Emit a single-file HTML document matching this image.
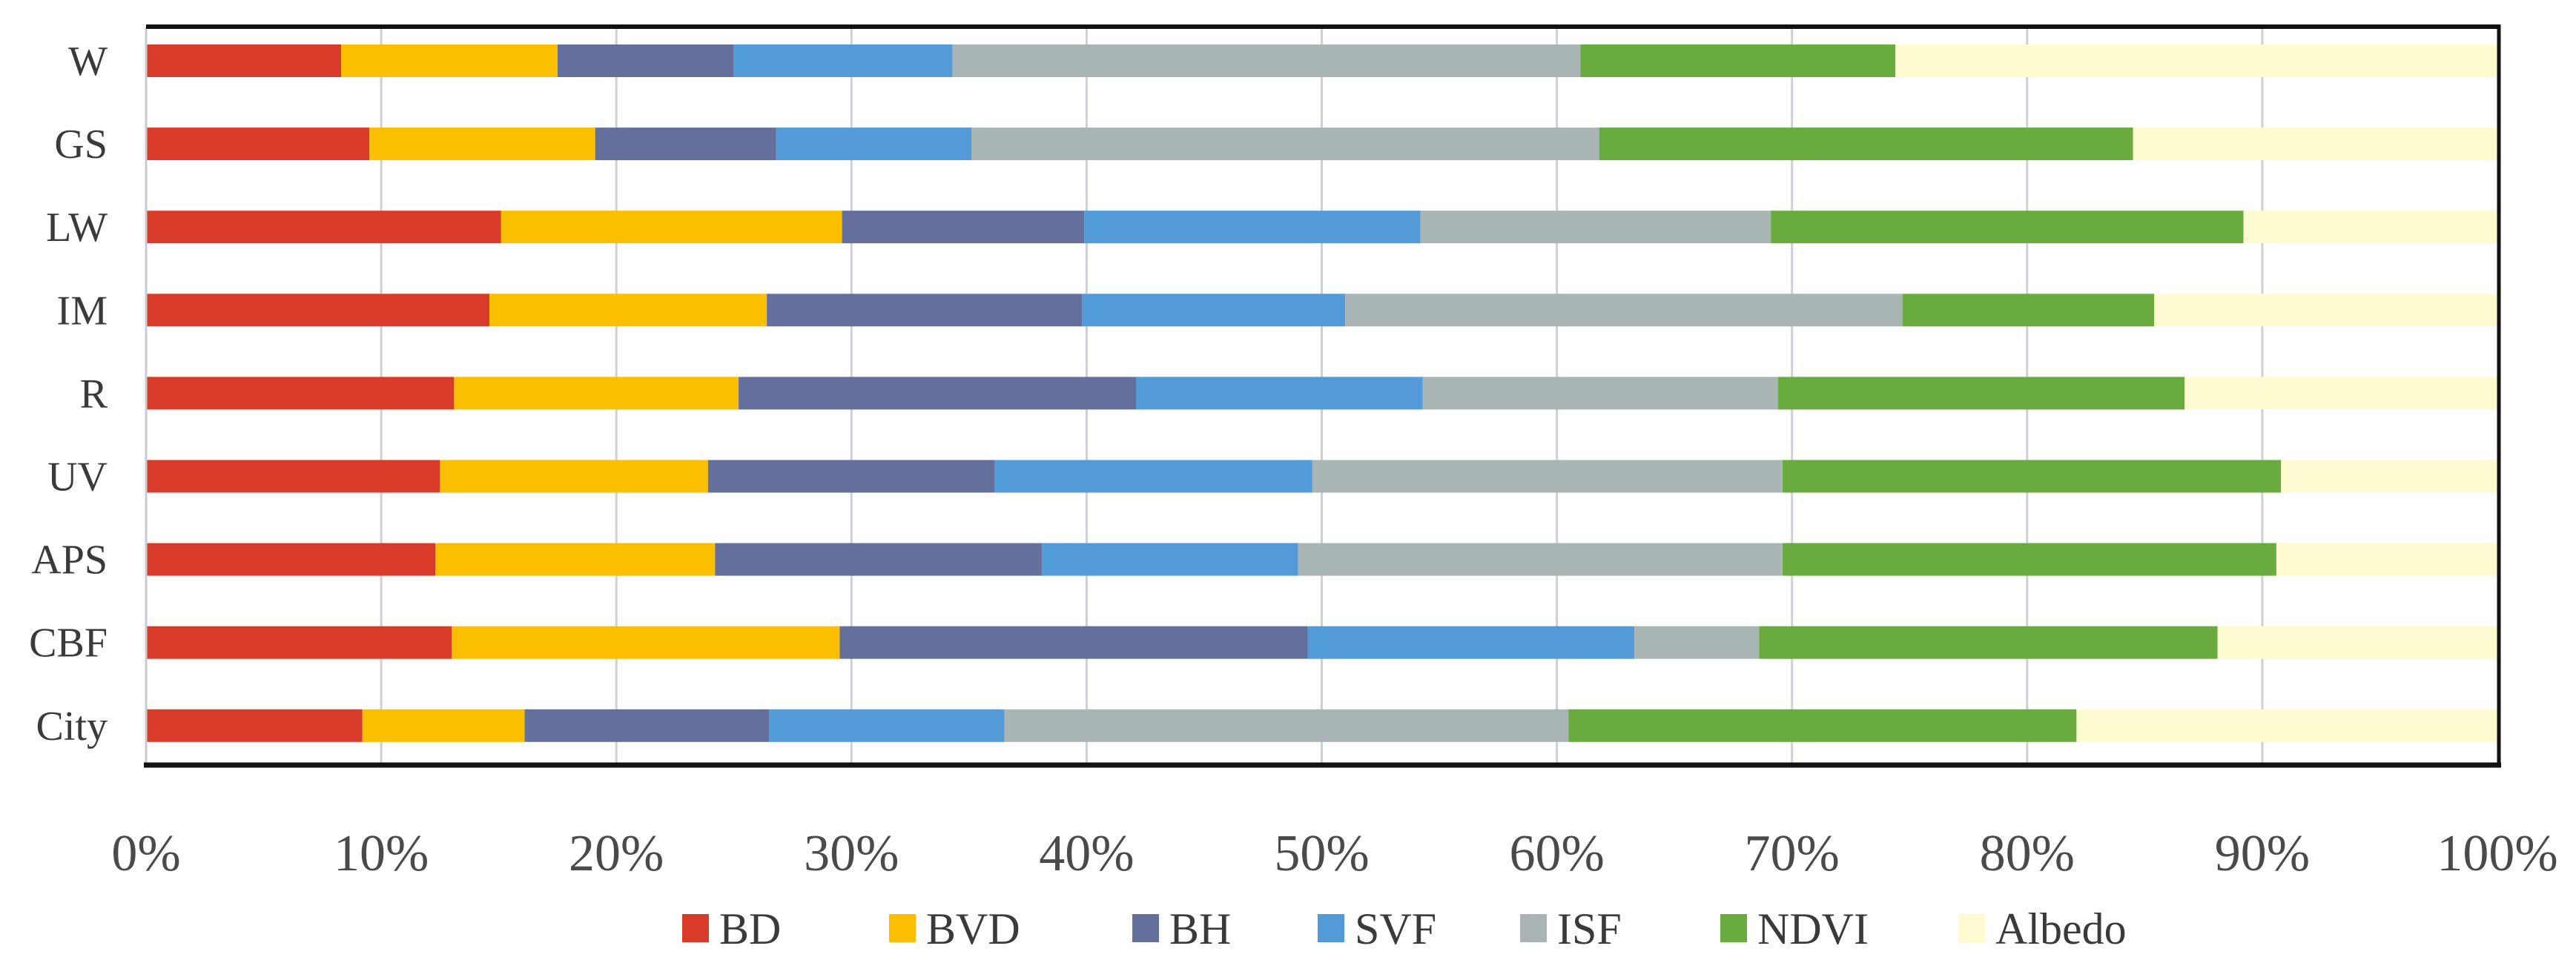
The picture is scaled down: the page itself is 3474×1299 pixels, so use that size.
<!DOCTYPE html>
<html><head><meta charset="utf-8"><style>
html,body{margin:0;padding:0;background:#fff;}
svg{display:block;font-family:"Liberation Serif",serif;}
</style></head><body>
<svg id="chart" width="3474" height="1299" viewBox="0 0 3474 1299" xmlns="http://www.w3.org/2000/svg">
<g id="grid"></g>
<g id="bars"></g>
<g id="frame">
<line x1="197" y1="36" x2="197" y2="1032" stroke="#c8ccd2" stroke-width="3"/>
<line x1="197" y1="36" x2="3370" y2="36" stroke="#111" stroke-width="6"/>
<line x1="3370" y1="33" x2="3370" y2="1035" stroke="#111" stroke-width="5"/>
<line x1="194" y1="1032" x2="3373" y2="1032" stroke="#111" stroke-width="7"/>
</g>
<g id="ylabels"></g>
<g id="xlabels"></g>
<g id="legend"></g>
</svg>
<script>
const categories = ["W","GS","LW","IM","R","UV","APS","CBF","City"];
const seriesNames = ["BD","BVD","BH","SVF","ISF","NDVI","Albedo"];
const BD     = [8.3, 9.5, 15.1, 14.6, 13.1, 12.5, 12.3, 13.0, 9.2];
const BVD    = [9.2, 9.6, 14.5, 11.8, 12.1, 11.4, 11.9, 16.5, 6.9];
const BH     = [7.5, 7.7, 10.3, 13.4, 16.9, 12.2, 13.9, 19.9, 10.4];
const SVF    = [9.3, 8.3, 14.3, 11.2, 12.2, 13.5, 10.9, 13.9, 10.0];
const ISF    = [26.7, 26.7, 14.9, 23.7, 15.1, 20.0, 20.6, 5.3, 24.0];
const NDVI   = [13.4, 22.7, 20.1, 10.7, 17.3, 21.2, 21.0, 19.5, 21.6];
const Albedo = [25.6, 15.5, 10.8, 14.6, 13.3, 9.2, 9.4, 11.9, 17.9];
const xTicks = [0,10,20,30,40,50,60,70,80,90,100];
const xTickLabels = ["0%","10%","20%","30%","40%","50%","60%","70%","80%","90%","100%"];

const colors = ["#d93b2b","#fbbf00","#64709b","#539bd8","#a9b4b5","#6aab3f","#fdfbcf"];
const series = [BD,BVD,BH,SVF,ISF,NDVI,Albedo];
const NS="http://www.w3.org/2000/svg";
const x0=197, x1=3368;
function xScale(v){return x0+(x1-x0)*v/100;}
function yScale(i){return 82+i*112.1;}
const barH=44;
function mk(tag,attrs,parent){const e=document.createElementNS(NS,tag);for(const k in attrs)e.setAttribute(k,attrs[k]);parent.appendChild(e);return e;}

const grid=document.getElementById('grid');
xTicks.forEach((t,i)=>{
  if(t===0||t===100) return;
  const l=mk('line',{x1:xScale(t),x2:xScale(t),y1:38,y2:1030,stroke:'#cdd0d6','stroke-width':3},grid);
  
  
});
const xl=document.getElementById('xlabels');
xTicks.forEach((t,i)=>{
  const tx=mk('text',{x:xScale(t),y:1174,'text-anchor':'middle','font-size':70,fill:'#4a4a4a'},xl);
  tx.textContent=xTickLabels[i];
  
  
});

const bars=document.getElementById('bars');
const yl=document.getElementById('ylabels');
categories.forEach((c,i)=>{
  let acc=0;
  series.forEach((s,j)=>{
    const v=s[i];
    const r=mk('rect',{x:xScale(acc),y:yScale(i)-barH/2,width:xScale(acc+v)-xScale(acc),height:barH,fill:colors[j]},bars);
    
    
    acc+=v;
  });
  const t=mk('text',{x:145,y:yScale(i)+19,'text-anchor':'end','font-size':56,fill:'#3a3a3a'},yl);
  t.textContent=c;
  
  
});

const lg=document.getElementById('legend');
const legX=[920,1199,1527,1777,2050,2320,2641];
seriesNames.forEach((n,j)=>{
  const g=mk('g',{},lg);
  
  
  mk('rect',{x:legX[j],y:1233,width:36,height:38,fill:colors[j]},g);
  const t=mk('text',{x:legX[j]+50,y:1273,'font-size':60,fill:'#3a3a3a'},g);
  t.textContent=n;
});
</script>
</body></html>
